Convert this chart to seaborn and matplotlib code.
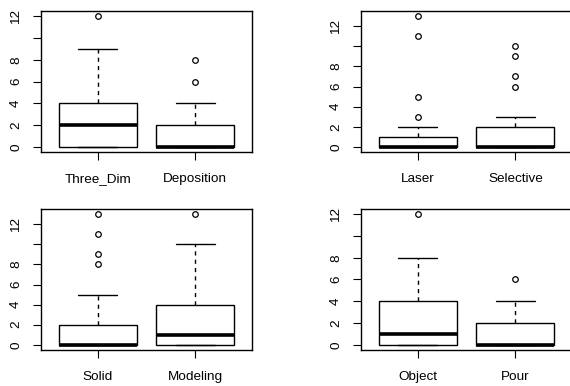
import pandas as pd
import matplotlib
matplotlib.use("Agg")
import matplotlib.pyplot as plt
import seaborn as sns

# counts per group
three_dim = [0, 0, 0, 0, 0, 0, 1, 1, 2, 2, 2, 3, 3, 3, 4, 4, 5, 6, 7, 9, 12]
deposition = [0] * 11 + [1, 1, 1, 2, 2, 2, 3, 4, 6, 8]
laser = [0] * 11 + [1, 1, 1, 1, 1, 2, 3, 5, 11, 13]
selective = [0] * 11 + [1, 1, 2, 2, 2, 3, 6, 7, 9, 10]
solid = [0] * 11 + [1, 1, 2, 2, 2, 5, 8, 9, 11, 13]
modeling = [0] * 6 + [1, 1, 1, 1, 1, 2, 3, 3, 4, 4, 5, 6, 8, 10, 13]
object_ = [0] * 6 + [1, 1, 1, 1, 1, 2, 2, 3, 4, 4, 5, 6, 7, 8, 12]
pour = [0] * 11 + [1, 1, 1, 2, 2, 2, 3, 3, 4, 6]

panels = [
    (("Three_Dim", three_dim), ("Deposition", deposition)),
    (("Laser", laser), ("Selective", selective)),
    (("Solid", solid), ("Modeling", modeling)),
    (("Object", object_), ("Pour", pour)),
]
yticks = [0, 2, 4, 6, 8, 10, 12]
yticklabels = ["0", "2", "4", "6", "8", "", "12"]

sns.set_style("ticks")
plt.rcParams["font.family"] = ["Liberation Sans", "DejaVu Sans"]
plt.rcParams["axes.edgecolor"] = "black"
plt.rcParams["xtick.color"] = "black"
plt.rcParams["ytick.color"] = "black"
plt.rcParams["text.color"] = "black"

fig = plt.figure(figsize=(5.7, 3.86), dpi=100)
fig.patch.set_facecolor("white")

positions = [
    [0.0719, 0.6062, 0.3702, 0.3653],
    [0.6333, 0.6062, 0.3702, 0.3653],
    [0.0719, 0.0933, 0.3702, 0.3653],
    [0.6333, 0.0933, 0.3702, 0.3653],
]

for pos, ((n1, v1), (n2, v2)) in zip(positions, panels):
    ax = fig.add_axes(pos)
    df = pd.DataFrame({
        "group": [n1] * len(v1) + [n2] * len(v2),
        "count": v1 + v2,
    })
    sns.boxplot(
        data=df, x="group", y="count", ax=ax,
        color="white", linecolor="black", linewidth=1.0,
        width=0.8, whis=1.5, saturation=1,
        medianprops=dict(linewidth=2.6, color="black"),
        whiskerprops=dict(linestyle=(0, (3, 3))),
        flierprops=dict(marker="o", markersize=4, markerfacecolor="none",
                        markeredgecolor="black", markeredgewidth=0.9),
    )
    lo, hi = df["count"].min(), df["count"].max()
    pad = 0.04 * (hi - lo)
    ax.set_ylim(lo - pad, hi + pad)
    ax.set_xlim(-0.58, 1.58)
    ax.set_yticks(yticks)
    ax.set_yticklabels(yticklabels, rotation=90, va="center")
    ax.set_xlabel("")
    ax.set_ylabel("")
    ax.tick_params(axis="both", length=5.5, width=0.8, labelsize=9.7)
    ax.tick_params(axis="x", pad=9.5)
    ax.tick_params(axis="y", pad=8)
    for sp in ax.spines.values():
        sp.set_visible(True)
        sp.set_linewidth(1.0)
        sp.set_color("black")

fig.savefig("out.png", dpi=100, facecolor="white")
